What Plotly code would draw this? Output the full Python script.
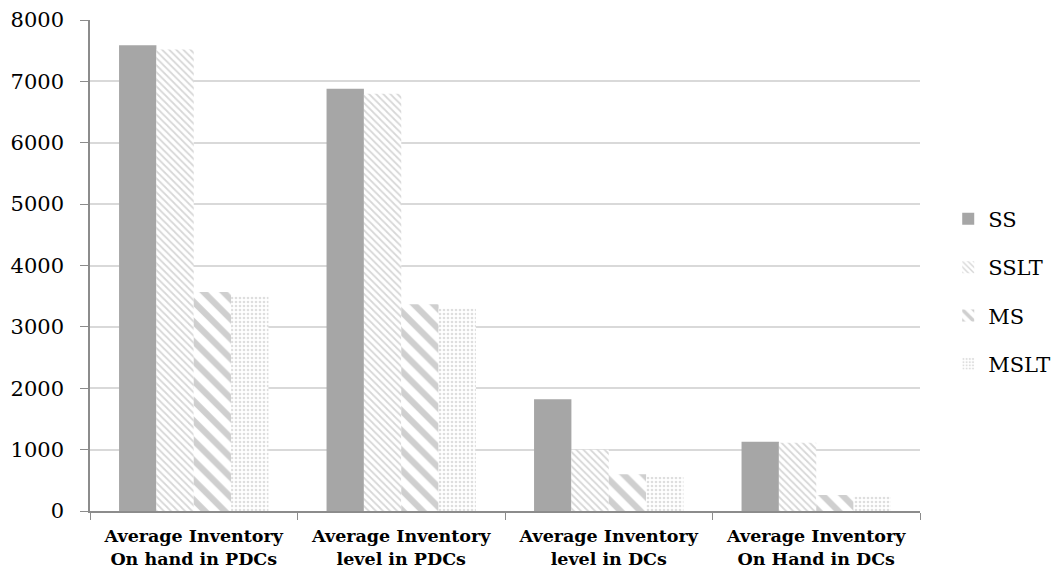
import plotly.graph_objects as go

categories = ["<b>Average Inventory<br>On hand in PDCs</b>", "<b>Average Inventory<br>level in PDCs</b>",
              "<b>Average Inventory<br>level in DCs</b>", "<b>Average Inventory<br>On Hand in DCs</b>"]
series_names = ["SS", "SSLT", "MS", "MSLT"]
ss = [7590, 6880, 1820, 1130]
sslt = [7520, 6800, 1000, 1110]
ms = [3570, 3370, 600, 260]
mslt = [3500, 3300, 560, 240]
y_ticks = [0, 1000, 2000, 3000, 4000, 5000, 6000, 7000, 8000]

styles = [
    dict(color="#a6a6a6"),
    dict(color="white", pattern=dict(shape="\\", fgcolor="#b0b0b0", bgcolor="white", size=5, solidity=0.35)),
    dict(color="white", pattern=dict(shape="\\", fgcolor="#a0a0a0", bgcolor="white", size=14, solidity=0.45)),
    dict(color="white", pattern=dict(shape=".", fgcolor="#bdbdbd", bgcolor="white", size=4, solidity=0.35)),
]

fig = go.Figure()
for name, vals, st in zip(series_names, [ss, sslt, ms, mslt], styles):
    fig.add_trace(go.Bar(x=categories, y=vals, name=name, marker=dict(line=dict(width=0), **st),
                         legendgroup=name))

fig.update_layout(
    width=1053, height=565,
    margin=dict(l=82, r=141, t=12, b=62, autoexpand=False),
    paper_bgcolor="white", plot_bgcolor="white",
    barmode="group", bargap=0.28, bargroupgap=0,
    font=dict(family="DejaVu Serif", color="black"),
    legend=dict(x=1.034, y=0.636, xanchor="left", yanchor="top", font=dict(size=21),
                tracegroupgap=18, itemwidth=30),
    showlegend=True,
)
fig.update_xaxes(showline=True, linecolor="#8c8c8c", linewidth=1.5, ticks="outside", tickson="boundaries",
                 ticklen=7, tickcolor="#8c8c8c", tickfont=dict(size=17.5), showgrid=False, automargin=False,
                 ticklabelstandoff=8)
fig.update_yaxes(range=[0, 8000], tickvals=y_ticks, showline=True, linecolor="#8c8c8c", linewidth=1.5,
                 ticks="outside", ticklen=8, tickcolor="#8c8c8c", showgrid=True, gridcolor="#d9d9d9",
                 gridwidth=1.5, tickfont=dict(size=21), zeroline=False, automargin=False,
                 ticklabelstandoff=12)

fig.write_html("out.html")
